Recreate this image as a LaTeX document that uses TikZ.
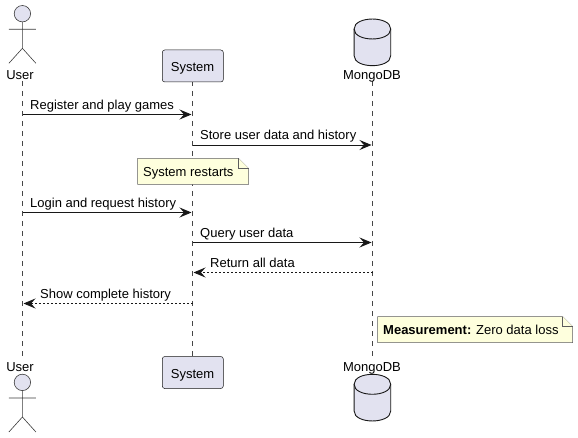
\documentclass[tikz,border=0pt]{standalone}
\usepackage{fontspec}
\setmainfont{Liberation Sans}
\usepackage{xcolor}
\usetikzlibrary{arrows.meta}
\definecolor{partfill}{HTML}{E2E2F0}
\definecolor{partline}{HTML}{181818}
\definecolor{notefill}{HTML}{FEFFDD}

\begin{document}
\begin{tikzpicture}[
    x=1pt, y=-1pt,
    every node/.style={inner sep=0pt, font=\fontsize{13}{15}\selectfont, text=black},
    partbox/.style={draw=partline, fill=partfill, rounded corners=2.5pt, line width=0.5pt, minimum width=61pt, minimum height=32pt},
    lifeline/.style={draw=partline!80, line width=0.5pt, dash pattern=on 5pt off 5pt},
    msg/.style={draw=partline, line width=0.9pt, -{Stealth[length=12pt, width=10pt, inset=4.5pt]}},
    reply/.style={msg, dash pattern=on 2pt off 2pt},
    txt/.style={anchor=base west},
    partname/.style={anchor=base},
    notebox/.style={draw=partline!70, fill=notefill, line width=0.5pt},
    actorfig/.pic={
        \draw[draw=partline!85, fill=partfill, line width=0.6pt] (0,0) circle (8.2);
        \draw[draw=partline!85, line width=0.6pt] (0,8.2) -- (0,34.6) (-13.5,15.6) -- (13.5,15.6)
            (-13.5,49.6) -- (0,34.6) -- (13.5,49.6);
    },
    dbfig/.pic={
        \draw[draw=partline, fill=partfill, line width=0.9pt] (-18.3,10) .. controls (-18.3,-3.3) and (18.3,-3.3) .. (18.3,10)
            -- (18.3,36.7) .. controls (18.3,50) and (-18.3,50) .. (-18.3,36.7) -- cycle;
        \draw[draw=partline, line width=0.9pt] (-18.3,10) .. controls (-18.3,23.3) and (18.3,23.3) .. (18.3,10);
    }
]
\useasboundingbox (0,0) rectangle (578,438);

% lifeline ends
\coordinate (usertop) at (22.5,81);
\coordinate (userbot) at (22.5,358);
\coordinate (systop) at (192.5,81);
\coordinate (sysbot) at (192.5,356.5);
\coordinate (dbtop) at (372.5,81);
\coordinate (dbbot) at (372.5,356.5);

% lifelines
\draw[lifeline] (usertop) -- (userbot);
\draw[lifeline] (systop) -- (sysbot);
\draw[lifeline] (dbtop) -- (dbbot);

% participants on top
\pic at (22.4,13.7) {actorfig};
\node[partname] (usernametop) at (20,80) {User};
\node[partbox] (systemtop) at (192.8,66) {};
\node[partname] (systemlabeltop) at (192.5,72) {System};
\pic at (372.4,19) {dbfig};
\node[partname] (dbnametop) at (372,80) {MongoDB};

% participants at the bottom
\pic at (22.4,382.4) {actorfig};
\node[partname] (usernamebot) at (20,371) {User};
\node[partbox] (systembot) at (192.8,372.5) {};
\node[partname] (systemlabelbot) at (192.5,378) {System};
\pic at (372.4,374.3) {dbfig};
\node[partname] (dbnamebot) at (372,371) {MongoDB};

% message ends
\coordinate (u1) at (22.5,114.5);
\coordinate (s1) at (191.5,114.5);
\coordinate (s2) at (192.5,145);
\coordinate (d2) at (371.5,145);
\coordinate (u3) at (22.5,212.5);
\coordinate (s3) at (191.5,212.5);
\coordinate (s4) at (192.5,242.5);
\coordinate (d4) at (371.5,242.5);
\coordinate (d5) at (372.5,272.5);
\coordinate (s5) at (193.5,272.5);
\coordinate (s6) at (192.5,303.5);
\coordinate (u6) at (23.5,303.5);

% messages
\draw[msg] (u1) -- (s1);
\node[txt] (m1) at (30,110) {Register and play games};
\draw[msg] (s2) -- (d2);
\node[txt] (m2) at (200,140) {Store user data and history};
\draw[msg] (u3) -- (s3);
\node[txt] (m3) at (30,207.5) {Login and request history};
\draw[msg] (s4) -- (d4);
\node[txt] (m4) at (200,237.5) {Query user data};
\draw[reply] (d5) -- (s5);
\node[txt] (m5) at (210,267.5) {Return all data};
\draw[reply] (s6) -- (u6);
\node[txt] (m6) at (40,298.5) {Show complete history};

% notes
\draw[notebox] (137.5,158.5) -- (238.5,158.5) -- (248.5,168.5) -- (248.5,184.5) -- (137.5,184.5) -- cycle;
\draw[notebox] (238.5,158.5) -- (238.5,168.5) -- (248.5,168.5);
\node[txt] (note1) at (143,176.7) {System restarts};
\draw[notebox] (377.5,316.5) -- (562.5,316.5) -- (572.5,326.5) -- (572.5,342.5) -- (377.5,342.5) -- cycle;
\draw[notebox] (562.5,316.5) -- (562.5,326.5) -- (572.5,326.5);
\node[txt] (note2) at (383,334.7) {\textbf{Measurement:} Zero data loss};

\end{tikzpicture}
\end{document}
